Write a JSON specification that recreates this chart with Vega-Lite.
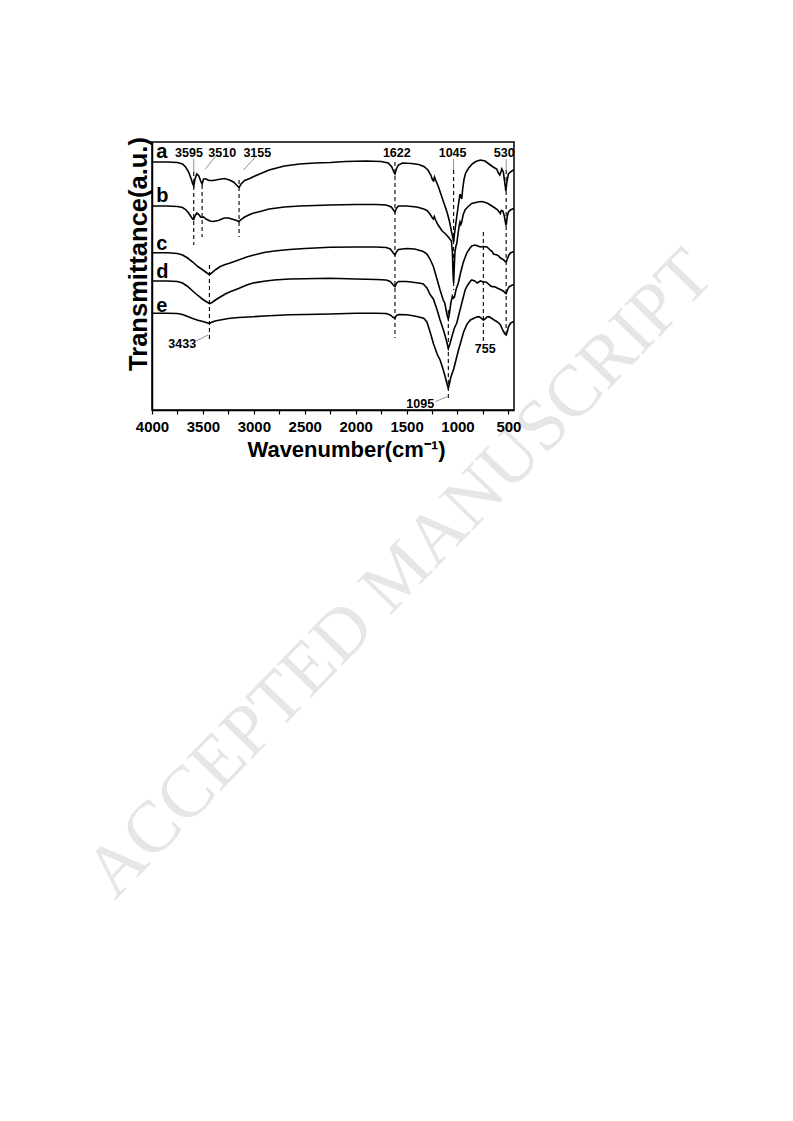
{
  "$schema": "https://vega.github.io/schema/vega-lite/v6.json",
  "autosize": {"type": "none"},
  "padding": {"left": 152, "top": 142, "right": 279, "bottom": 711},
  "width": 362,
  "height": 268,
  "background": "white",
  "config": {"view": {"stroke": "black", "strokeWidth": 1.5}},
  "datasets": {
    "wm": [{"wn": 1565, "t": -164, "label": "ACCEPTED MANUSCRIPT"}],
    "curves": [
      {"s":"a","wn":4000,"t":248},{"s":"a","wn":3850,"t":248},{"s":"a","wn":3750,"t":247.5},{"s":"a","wn":3700,"t":246},{"s":"a","wn":3670,"t":243},{"s":"a","wn":3640,"t":238},{"s":"a","wn":3615,"t":231},{"s":"a","wn":3600,"t":226},{"s":"a","wn":3590,"t":224},{"s":"a","wn":3578,"t":231},{"s":"a","wn":3560,"t":236},{"s":"a","wn":3540,"t":234},{"s":"a","wn":3522,"t":229},{"s":"a","wn":3508,"t":226},{"s":"a","wn":3494,"t":231},{"s":"a","wn":3470,"t":231},{"s":"a","wn":3440,"t":229.5},{"s":"a","wn":3400,"t":229.5},{"s":"a","wn":3350,"t":230.5},{"s":"a","wn":3290,"t":231.5},{"s":"a","wn":3240,"t":230},{"s":"a","wn":3200,"t":228},{"s":"a","wn":3170,"t":225},{"s":"a","wn":3145,"t":222.5},{"s":"a","wn":3125,"t":226},{"s":"a","wn":3090,"t":229.5},{"s":"a","wn":3040,"t":231.5},{"s":"a","wn":3000,"t":233.5},{"s":"a","wn":2920,"t":237},{"s":"a","wn":2850,"t":240},{"s":"a","wn":2700,"t":244},{"s":"a","wn":2550,"t":246},{"s":"a","wn":2400,"t":247},{"s":"a","wn":2250,"t":247.5},{"s":"a","wn":2100,"t":248.5},{"s":"a","wn":1900,"t":249},{"s":"a","wn":1750,"t":248.5},{"s":"a","wn":1680,"t":247},{"s":"a","wn":1645,"t":243},{"s":"a","wn":1625,"t":238},{"s":"a","wn":1614,"t":236},{"s":"a","wn":1600,"t":241},{"s":"a","wn":1580,"t":245},{"s":"a","wn":1540,"t":247},{"s":"a","wn":1450,"t":246.5},{"s":"a","wn":1380,"t":245.5},{"s":"a","wn":1330,"t":243.5},{"s":"a","wn":1290,"t":240},{"s":"a","wn":1262,"t":235},{"s":"a","wn":1245,"t":230},{"s":"a","wn":1235,"t":229},{"s":"a","wn":1226,"t":233},{"s":"a","wn":1215,"t":230},{"s":"a","wn":1190,"t":224},{"s":"a","wn":1160,"t":215},{"s":"a","wn":1130,"t":206},{"s":"a","wn":1100,"t":197},{"s":"a","wn":1075,"t":187},{"s":"a","wn":1058,"t":178},{"s":"a","wn":1045,"t":172},{"s":"a","wn":1038,"t":168},{"s":"a","wn":1030,"t":176},{"s":"a","wn":1018,"t":185},{"s":"a","wn":1005,"t":195},{"s":"a","wn":990,"t":206},{"s":"a","wn":975,"t":216},{"s":"a","wn":965,"t":213},{"s":"a","wn":958,"t":211},{"s":"a","wn":948,"t":222},{"s":"a","wn":935,"t":231},{"s":"a","wn":920,"t":237},{"s":"a","wn":890,"t":242},{"s":"a","wn":857,"t":246},{"s":"a","wn":820,"t":248.5},{"s":"a","wn":775,"t":250},{"s":"a","wn":730,"t":249},{"s":"a","wn":690,"t":246},{"s":"a","wn":650,"t":243},{"s":"a","wn":615,"t":241},{"s":"a","wn":598,"t":237},{"s":"a","wn":585,"t":235},{"s":"a","wn":574,"t":238},{"s":"a","wn":565,"t":241},{"s":"a","wn":550,"t":238},{"s":"a","wn":538,"t":229},{"s":"a","wn":525,"t":219},{"s":"a","wn":515,"t":228},{"s":"a","wn":500,"t":236},{"s":"a","wn":480,"t":238},{"s":"a","wn":460,"t":239.5},{"s":"a","wn":445,"t":240},
      {"s":"b","wn":4000,"t":204},{"s":"b","wn":3850,"t":204},{"s":"b","wn":3750,"t":203.5},{"s":"b","wn":3700,"t":202.5},{"s":"b","wn":3670,"t":200.5},{"s":"b","wn":3640,"t":197},{"s":"b","wn":3615,"t":193},{"s":"b","wn":3600,"t":191},{"s":"b","wn":3590,"t":190.5},{"s":"b","wn":3578,"t":194},{"s":"b","wn":3560,"t":197},{"s":"b","wn":3540,"t":195.5},{"s":"b","wn":3522,"t":193},{"s":"b","wn":3508,"t":192.5},{"s":"b","wn":3494,"t":193},{"s":"b","wn":3470,"t":191},{"s":"b","wn":3430,"t":189},{"s":"b","wn":3400,"t":188.5},{"s":"b","wn":3350,"t":189.5},{"s":"b","wn":3290,"t":192},{"s":"b","wn":3250,"t":192},{"s":"b","wn":3200,"t":190.5},{"s":"b","wn":3170,"t":189.5},{"s":"b","wn":3145,"t":188.5},{"s":"b","wn":3125,"t":190.5},{"s":"b","wn":3090,"t":193},{"s":"b","wn":3040,"t":195.5},{"s":"b","wn":3000,"t":197},{"s":"b","wn":2920,"t":199},{"s":"b","wn":2850,"t":201},{"s":"b","wn":2700,"t":203},{"s":"b","wn":2550,"t":204},{"s":"b","wn":2400,"t":204.5},{"s":"b","wn":2250,"t":205},{"s":"b","wn":2000,"t":205.5},{"s":"b","wn":1800,"t":205.5},{"s":"b","wn":1700,"t":205},{"s":"b","wn":1650,"t":203},{"s":"b","wn":1625,"t":199.5},{"s":"b","wn":1614,"t":198},{"s":"b","wn":1600,"t":201.5},{"s":"b","wn":1580,"t":204},{"s":"b","wn":1500,"t":204},{"s":"b","wn":1400,"t":203},{"s":"b","wn":1330,"t":201},{"s":"b","wn":1300,"t":199.5},{"s":"b","wn":1270,"t":196},{"s":"b","wn":1250,"t":192.5},{"s":"b","wn":1237,"t":191},{"s":"b","wn":1228,"t":193.5},{"s":"b","wn":1215,"t":190},{"s":"b","wn":1190,"t":185},{"s":"b","wn":1150,"t":179},{"s":"b","wn":1122,"t":176.5},{"s":"b","wn":1090,"t":173},{"s":"b","wn":1060,"t":169},{"s":"b","wn":1050,"t":158},{"s":"b","wn":1043,"t":135},{"s":"b","wn":1038,"t":127},{"s":"b","wn":1033,"t":140},{"s":"b","wn":1025,"t":158},{"s":"b","wn":1015,"t":164},{"s":"b","wn":1007,"t":166.5},{"s":"b","wn":995,"t":176},{"s":"b","wn":982,"t":185},{"s":"b","wn":975,"t":188},{"s":"b","wn":967,"t":185.5},{"s":"b","wn":958,"t":188},{"s":"b","wn":945,"t":195},{"s":"b","wn":926,"t":200},{"s":"b","wn":900,"t":203},{"s":"b","wn":860,"t":206.5},{"s":"b","wn":800,"t":208},{"s":"b","wn":760,"t":208.5},{"s":"b","wn":710,"t":207},{"s":"b","wn":677,"t":205},{"s":"b","wn":640,"t":202.5},{"s":"b","wn":610,"t":200.5},{"s":"b","wn":590,"t":198},{"s":"b","wn":580,"t":196.5},{"s":"b","wn":570,"t":199.5},{"s":"b","wn":555,"t":199},{"s":"b","wn":540,"t":194},{"s":"b","wn":530,"t":188},{"s":"b","wn":522,"t":184.5},{"s":"b","wn":512,"t":193},{"s":"b","wn":500,"t":198},{"s":"b","wn":480,"t":200},{"s":"b","wn":460,"t":201},{"s":"b","wn":445,"t":201.5},
      {"s":"c","wn":4000,"t":157.3},{"s":"c","wn":3850,"t":157.3},{"s":"c","wn":3750,"t":156.5},{"s":"c","wn":3700,"t":155},{"s":"c","wn":3650,"t":152},{"s":"c","wn":3600,"t":148},{"s":"c","wn":3550,"t":143.5},{"s":"c","wn":3500,"t":140},{"s":"c","wn":3460,"t":137},{"s":"c","wn":3436,"t":135.5},{"s":"c","wn":3415,"t":137},{"s":"c","wn":3380,"t":140},{"s":"c","wn":3330,"t":143.5},{"s":"c","wn":3280,"t":145.5},{"s":"c","wn":3233,"t":147},{"s":"c","wn":3150,"t":150},{"s":"c","wn":3070,"t":153},{"s":"c","wn":3000,"t":155},{"s":"c","wn":2900,"t":157.5},{"s":"c","wn":2800,"t":159},{"s":"c","wn":2650,"t":160.5},{"s":"c","wn":2500,"t":161.5},{"s":"c","wn":2250,"t":162.7},{"s":"c","wn":2000,"t":163},{"s":"c","wn":1800,"t":163},{"s":"c","wn":1700,"t":162.5},{"s":"c","wn":1660,"t":161},{"s":"c","wn":1630,"t":157},{"s":"c","wn":1614,"t":155},{"s":"c","wn":1600,"t":158},{"s":"c","wn":1580,"t":160.5},{"s":"c","wn":1500,"t":161.5},{"s":"c","wn":1420,"t":161},{"s":"c","wn":1336,"t":158.5},{"s":"c","wn":1300,"t":156},{"s":"c","wn":1270,"t":151},{"s":"c","wn":1237,"t":143.5},{"s":"c","wn":1210,"t":134},{"s":"c","wn":1171,"t":120},{"s":"c","wn":1140,"t":110},{"s":"c","wn":1125,"t":107},{"s":"c","wn":1112,"t":100},{"s":"c","wn":1100,"t":94},{"s":"c","wn":1090,"t":91},{"s":"c","wn":1080,"t":96},{"s":"c","wn":1065,"t":107},{"s":"c","wn":1050,"t":114},{"s":"c","wn":1040,"t":112},{"s":"c","wn":1030,"t":113},{"s":"c","wn":1015,"t":120},{"s":"c","wn":992,"t":127},{"s":"c","wn":970,"t":137},{"s":"c","wn":945,"t":147},{"s":"c","wn":909,"t":157},{"s":"c","wn":880,"t":161.5},{"s":"c","wn":860,"t":164},{"s":"c","wn":830,"t":165},{"s":"c","wn":800,"t":164},{"s":"c","wn":775,"t":163},{"s":"c","wn":746,"t":163.5},{"s":"c","wn":710,"t":163},{"s":"c","wn":680,"t":160},{"s":"c","wn":660,"t":158.5},{"s":"c","wn":645,"t":156},{"s":"c","wn":630,"t":155.5},{"s":"c","wn":611,"t":155},{"s":"c","wn":595,"t":154},{"s":"c","wn":578,"t":152},{"s":"c","wn":560,"t":151},{"s":"c","wn":545,"t":150},{"s":"c","wn":530,"t":148.5},{"s":"c","wn":522,"t":148},{"s":"c","wn":510,"t":151},{"s":"c","wn":495,"t":155},{"s":"c","wn":480,"t":157},{"s":"c","wn":460,"t":158},{"s":"c","wn":445,"t":158.3},
      {"s":"d","wn":4000,"t":129},{"s":"d","wn":3850,"t":129},{"s":"d","wn":3750,"t":128.5},{"s":"d","wn":3700,"t":127},{"s":"d","wn":3650,"t":123.5},{"s":"d","wn":3600,"t":119},{"s":"d","wn":3550,"t":114.5},{"s":"d","wn":3500,"t":110.5},{"s":"d","wn":3460,"t":108},{"s":"d","wn":3436,"t":106.5},{"s":"d","wn":3410,"t":107.5},{"s":"d","wn":3370,"t":110.5},{"s":"d","wn":3330,"t":113},{"s":"d","wn":3280,"t":116},{"s":"d","wn":3233,"t":118.3},{"s":"d","wn":3150,"t":121.5},{"s":"d","wn":3070,"t":125},{"s":"d","wn":3007,"t":127},{"s":"d","wn":2900,"t":128.8},{"s":"d","wn":2800,"t":130},{"s":"d","wn":2650,"t":131},{"s":"d","wn":2500,"t":131.3},{"s":"d","wn":2250,"t":131.7},{"s":"d","wn":2000,"t":131},{"s":"d","wn":1800,"t":130.5},{"s":"d","wn":1700,"t":130},{"s":"d","wn":1660,"t":128.5},{"s":"d","wn":1630,"t":125},{"s":"d","wn":1614,"t":123.3},{"s":"d","wn":1600,"t":126.5},{"s":"d","wn":1580,"t":128.5},{"s":"d","wn":1500,"t":128.5},{"s":"d","wn":1420,"t":127.5},{"s":"d","wn":1365,"t":126.7},{"s":"d","wn":1336,"t":126},{"s":"d","wn":1300,"t":122},{"s":"d","wn":1266,"t":115},{"s":"d","wn":1237,"t":111},{"s":"d","wn":1200,"t":100},{"s":"d","wn":1171,"t":90},{"s":"d","wn":1135,"t":79},{"s":"d","wn":1110,"t":70},{"s":"d","wn":1090,"t":61.5},{"s":"d","wn":1075,"t":66},{"s":"d","wn":1050,"t":75},{"s":"d","wn":1030,"t":82},{"s":"d","wn":1007,"t":87},{"s":"d","wn":980,"t":98},{"s":"d","wn":950,"t":110},{"s":"d","wn":925,"t":120},{"s":"d","wn":905,"t":124},{"s":"d","wn":880,"t":128},{"s":"d","wn":860,"t":130},{"s":"d","wn":830,"t":129},{"s":"d","wn":807,"t":127},{"s":"d","wn":775,"t":129},{"s":"d","wn":746,"t":128},{"s":"d","wn":720,"t":128},{"s":"d","wn":700,"t":126.5},{"s":"d","wn":680,"t":124.5},{"s":"d","wn":660,"t":123.3},{"s":"d","wn":640,"t":123.5},{"s":"d","wn":620,"t":122.5},{"s":"d","wn":600,"t":121.5},{"s":"d","wn":578,"t":120.5},{"s":"d","wn":560,"t":119.5},{"s":"d","wn":545,"t":118.5},{"s":"d","wn":530,"t":117},{"s":"d","wn":522,"t":116.5},{"s":"d","wn":510,"t":120},{"s":"d","wn":495,"t":123},{"s":"d","wn":480,"t":124},{"s":"d","wn":460,"t":125},{"s":"d","wn":445,"t":125},
      {"s":"e","wn":4000,"t":96.7},{"s":"e","wn":3850,"t":96.7},{"s":"e","wn":3750,"t":96.5},{"s":"e","wn":3700,"t":95.5},{"s":"e","wn":3650,"t":93.5},{"s":"e","wn":3600,"t":91.5},{"s":"e","wn":3550,"t":89.8},{"s":"e","wn":3500,"t":88.5},{"s":"e","wn":3460,"t":87.3},{"s":"e","wn":3436,"t":86.5},{"s":"e","wn":3420,"t":87.5},{"s":"e","wn":3380,"t":89},{"s":"e","wn":3331,"t":90},{"s":"e","wn":3250,"t":91.5},{"s":"e","wn":3150,"t":92.5},{"s":"e","wn":3007,"t":93.3},{"s":"e","wn":2900,"t":94},{"s":"e","wn":2800,"t":94.5},{"s":"e","wn":2650,"t":95.2},{"s":"e","wn":2500,"t":95.5},{"s":"e","wn":2250,"t":96},{"s":"e","wn":2000,"t":96.7},{"s":"e","wn":1800,"t":96.7},{"s":"e","wn":1700,"t":96.5},{"s":"e","wn":1660,"t":95},{"s":"e","wn":1630,"t":92.5},{"s":"e","wn":1614,"t":91.7},{"s":"e","wn":1600,"t":94.5},{"s":"e","wn":1580,"t":95.5},{"s":"e","wn":1500,"t":95.2},{"s":"e","wn":1420,"t":94},{"s":"e","wn":1360,"t":92.5},{"s":"e","wn":1332,"t":91.7},{"s":"e","wn":1300,"t":88},{"s":"e","wn":1266,"t":77},{"s":"e","wn":1235,"t":66},{"s":"e","wn":1200,"t":56},{"s":"e","wn":1171,"t":50},{"s":"e","wn":1145,"t":42},{"s":"e","wn":1120,"t":33},{"s":"e","wn":1100,"t":25},{"s":"e","wn":1090,"t":21.7},{"s":"e","wn":1080,"t":26},{"s":"e","wn":1065,"t":33},{"s":"e","wn":1037,"t":41},{"s":"e","wn":1010,"t":52},{"s":"e","wn":990,"t":60},{"s":"e","wn":970,"t":67},{"s":"e","wn":940,"t":78},{"s":"e","wn":905,"t":86},{"s":"e","wn":873,"t":90},{"s":"e","wn":840,"t":91.7},{"s":"e","wn":810,"t":93},{"s":"e","wn":790,"t":93.3},{"s":"e","wn":770,"t":92},{"s":"e","wn":746,"t":90},{"s":"e","wn":730,"t":91},{"s":"e","wn":710,"t":93},{"s":"e","wn":690,"t":93.3},{"s":"e","wn":670,"t":92},{"s":"e","wn":640,"t":90},{"s":"e","wn":611,"t":88.3},{"s":"e","wn":590,"t":86.5},{"s":"e","wn":578,"t":85},{"s":"e","wn":560,"t":81},{"s":"e","wn":545,"t":78},{"s":"e","wn":530,"t":75.5},{"s":"e","wn":522,"t":75},{"s":"e","wn":512,"t":78},{"s":"e","wn":500,"t":83},{"s":"e","wn":480,"t":86.7},{"s":"e","wn":460,"t":88},{"s":"e","wn":445,"t":88.3}
    ],
    "vlines": [
      {"wn": 3590, "t": 238, "t2": 165},
      {"wn": 3508, "t": 225, "t2": 173},
      {"wn": 3145, "t": 230, "t2": 173},
      {"wn": 3436, "t": 145, "t2": 70},
      {"wn": 1614, "t": 248, "t2": 72},
      {"wn": 1038, "t": 240, "t2": 120},
      {"wn": 1090, "t": 100, "t2": 10},
      {"wn": 746, "t": 178, "t2": 68},
      {"wn": 522, "t": 240, "t2": 73}
    ],
    "leaders": [
      {"wn": 3364, "t": 255, "wn2": 3479, "t2": 240.7},
      {"wn": 2987, "t": 252.7, "wn2": 3102, "t2": 240},
      {"wn": 3567, "t": 69, "wn2": 3449, "t2": 75},
      {"wn": 1218, "t": 8.3, "wn2": 1103, "t2": 13.3},
      {"wn": 3590, "t": 251, "wn2": 3590, "t2": 238},
      {"wn": 1038, "t": 251, "wn2": 1038, "t2": 240},
      {"wn": 522, "t": 251, "wn2": 522, "t2": 240}
    ],
    "peaks": [
      {"wn": 3637, "t": 253, "label": "3595"},
      {"wn": 3310, "t": 253, "label": "3510"},
      {"wn": 2966, "t": 253, "label": "3155"},
      {"wn": 1596, "t": 253, "label": "1622"},
      {"wn": 1048, "t": 253, "label": "1045"},
      {"wn": 541, "t": 253, "label": "530"},
      {"wn": 3703, "t": 61.7, "label": "3433"},
      {"wn": 1366, "t": 1.7, "label": "1095"},
      {"wn": 727, "t": 56.7, "label": "755"}
    ],
    "names": [
      {"wn": 3959, "t": 251.7, "label": "a"},
      {"wn": 3959, "t": 208.3, "label": "b"},
      {"wn": 3959, "t": 160, "label": "c"},
      {"wn": 3959, "t": 131.7, "label": "d"},
      {"wn": 3959, "t": 98.3, "label": "e"}
    ]
  },
  "encoding": {
    "x": {
      "field": "wn", "type": "quantitative",
      "scale": {"domain": [4000, 445], "nice": false, "zero": false},
      "axis": {
        "zindex": 2,
        "values": [4000, 3750, 3500, 3250, 3000, 2750, 2500, 2250, 2000, 1750, 1500, 1250, 1000, 750, 500],
        "format": "d",
        "labelExpr": "datum.value % 500 == 0 ? datum.label : ''",
        "labelFont": "Liberation Sans", "labelFontSize": 15, "labelFontWeight": "bold", "labelColor": "black",
        "labelBaseline": "alphabetic", "labelPadding": 17, "labelOverlap": false, "labelBound": false, "labelFlush": false,
        "tickSize": 4, "tickColor": "black", "tickWidth": 1.2,
        "domainColor": "black", "domainWidth": 1.5, "grid": false,
        "title": "Wavenumber(cm⁻¹)", "titleFont": "Liberation Sans", "titleFontSize": 22, "titleFontWeight": "bold", "titleColor": "black",
        "titleX": 194, "titleY": 46.7, "titleBaseline": "alphabetic", "titleAlign": "center", "titleAnchor": null
      }
    },
    "y": {
      "field": "t", "type": "quantitative",
      "scale": {"domain": [0, 268], "nice": false, "zero": false},
      "axis": {
        "zindex": 2,
        "labels": false, "ticks": false, "domainColor": "black", "domainWidth": 1.5, "grid": false,
        "title": "Transmittance(a.u.)", "titleFont": "Liberation Sans", "titleFontSize": 25.5, "titleFontWeight": "bold", "titleColor": "black",
        "titleX": -6, "titleY": 111.5, "titleAngle": 270, "titleBaseline": "alphabetic", "titleAlign": "center", "titleAnchor": null
      }
    }
  },
  "layer": [
    {
      "data": {"name": "wm"},
      "mark": {"type": "text", "font": "Liberation Serif", "fontSize": 73, "angle": -46, "align": "center", "baseline": "middle", "color": "#e6e6e6"},
      "encoding": {"text": {"field": "label"}}
    },
    {
      "data": {"name": "curves"},
      "mark": {"type": "line", "color": "black", "strokeWidth": 1.6, "clip": true},
      "encoding": {"detail": {"field": "s"}}
    },
    {
      "data": {"name": "vlines"},
      "mark": {"type": "rule", "color": "black", "strokeWidth": 1.1, "strokeDash": [4, 3]},
      "encoding": {"y2": {"field": "t2"}}
    },
    {
      "data": {"name": "leaders"},
      "mark": {"type": "rule", "color": "#777777", "strokeWidth": 0.8},
      "encoding": {"x2": {"field": "wn2"}, "y2": {"field": "t2"}}
    },
    {
      "data": {"name": "peaks"},
      "mark": {"type": "text", "font": "Liberation Sans", "fontSize": 12.5, "fontWeight": "bold", "align": "center", "baseline": "alphabetic", "color": "black"},
      "encoding": {"text": {"field": "label"}}
    },
    {
      "data": {"name": "names"},
      "mark": {"type": "text", "font": "Liberation Sans", "fontSize": 20, "fontWeight": "bold", "align": "left", "baseline": "alphabetic", "color": "black"},
      "encoding": {"text": {"field": "label"}}
    }
  ]
}
